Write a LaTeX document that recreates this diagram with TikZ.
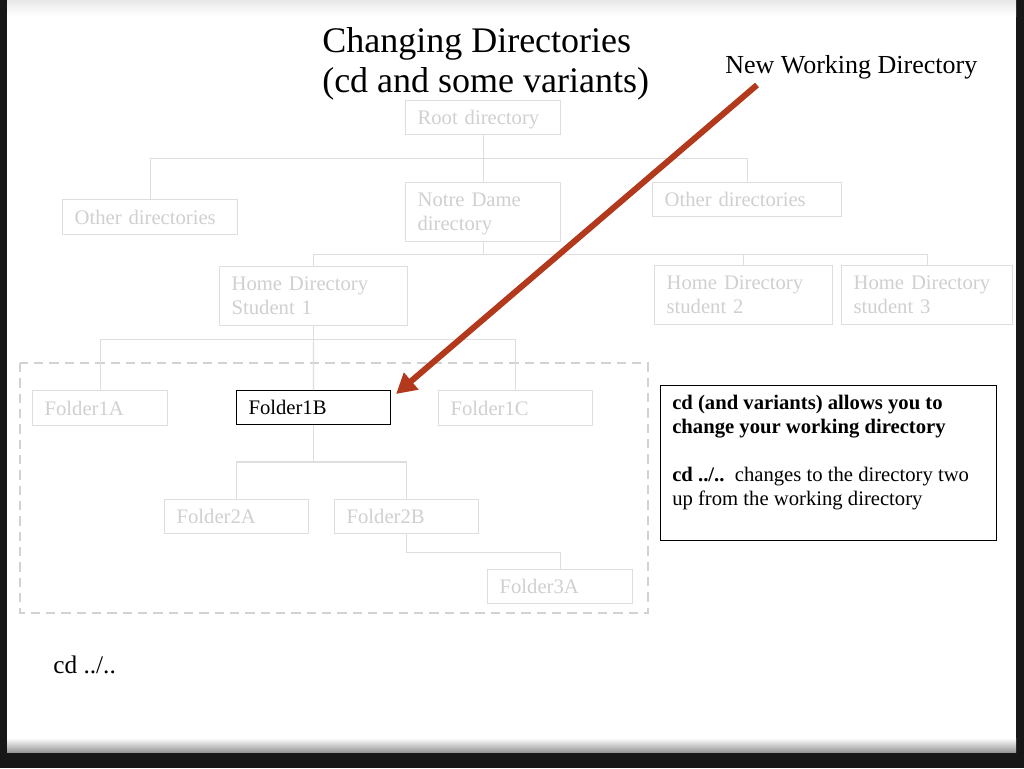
\documentclass[tikz,border=0pt]{standalone}
\usepackage{fontspec}
\setmainfont{Liberation Serif}
\usetikzlibrary{arrows.meta,calc}
\definecolor{boxgray}{HTML}{DEDEDE}
\definecolor{txtgray}{HTML}{D0D0D0}
\definecolor{dashgray}{HTML}{D2D2D2}
\definecolor{arrowred}{HTML}{B2391C}
\definecolor{framedark}{HTML}{171717}
\begin{document}
\begin{tikzpicture}[x=0.75pt,y=-0.75pt,
  dirbox/.style={draw=boxgray, line width=0.9pt, text=txtgray,
    font=\fontsize{15.5}{18}\selectfont, inner xsep=9pt, inner ysep=0pt,
    text depth=0pt, anchor=north west, align=left},
  twobox/.style={dirbox, text height=11.5pt, text depth=20pt},
  curbox/.style={dirbox, draw=black, text=black, line width=0.8pt},
  link/.style={draw=boxgray, line width=0.9pt},
  pointer/.style={draw=arrowred, line width=4.5pt, -{Triangle[length=15pt,width=16pt]}},
]
\useasboundingbox (0,0) rectangle (1024,768);
% slide background
\fill[framedark] (0,0) rectangle (1024,768);
\fill[white] (7,0) rectangle (1016,752);
\shade[top color=black!9, bottom color=white] (7,0) rectangle (1016,16);
\shade[top color=white, bottom color=black!40] (7,738) rectangle (1016,752);

% dashed region
\draw[dashgray, line width=1.5pt, dash pattern=on 7pt off 4.5pt] (20,363) rectangle (648,613);

% directory boxes
\node[dirbox, text width=98.25pt, minimum height=25.5pt] (root) at (405,100) {Root directory};
\node[dirbox, text width=113.25pt, minimum height=26.25pt] (otherL) at (62,199) {Other directories};
\node[twobox, text width=98.25pt, minimum height=44.25pt] (notre) at (405,182) {Notre Dame\\directory};
\node[dirbox, text width=123.75pt, minimum height=25.5pt] (otherR) at (652,182) {Other directories};
\node[twobox, text width=123pt, minimum height=44.25pt] (home1) at (219,266) {Home Directory\\Student 1};
\node[twobox, text width=115.5pt, minimum height=44.25pt] (home2) at (654,265) {Home Directory\\student 2};
\node[twobox, text width=110.25pt, minimum height=44.25pt] (home3) at (841,265) {Home Directory\\student 3};
\node[dirbox, text width=83.25pt, minimum height=26.25pt] (f1a) at (32,390) {Folder1A};
\node[curbox, text width=97.5pt, minimum height=25.5pt] (f1b) at (236,390) {Folder1B};
\node[dirbox, text width=97.5pt, minimum height=26.25pt] (f1c) at (438,390) {Folder1C};
\node[dirbox, text width=90pt, minimum height=25.5pt] (f2a) at (164,499) {Folder2A};
\node[dirbox, text width=90pt, minimum height=25.5pt] (f2b) at (334,499) {Folder2B};
\node[dirbox, text width=90.75pt, minimum height=25.5pt] (f3a) at (487,569) {Folder3A};

% connectors
\draw[link] (root.south) -- ++(0,23) coordinate (j1);
\draw[link] (j1) -| (otherL.north);
\draw[link] (j1) -| (otherR.north);
\draw[link] (j1) -- (notre.north);
\draw[link] (notre.south) -- ++(0,12) coordinate (j2);
\draw[link] (j2) -| (home1.north);
\draw[link] (j2) -| (home2.north);
\draw[link] (j2) -| (home3.north);
\draw[link] (home1.south) -- ++(0,13) coordinate (j3);
\draw[link] (j3) -| (f1a.north);
\draw[link] (j3) -| (f1c.north);
\draw[link] (j3) -- (f1b.north);
\draw[link] (f1b.south) -- ++(0,37) coordinate (j4);
\draw[link] (j4) -| (f2a.north);
\draw[link] (j4) -| (f2b.north);
\draw[link] (f2b.south) -- ++(0,18) -| (f3a.north);

% info box
\node[draw=black, line width=0.75pt, anchor=north west, minimum width=252pt, minimum height=116.25pt, inner sep=0pt] (info) at (660,385) {};
\node[anchor=north west, inner sep=0pt, align=left, font=\fontsize{15.5}{18}\selectfont] (infotext) at (672,395)
  {\textbf{cd (and variants) allows you to}\\\textbf{change your working directory}\\[18pt]\textbf{cd ../..}\ \ changes to the directory two\\up from the working directory};

% titles and labels
\node[anchor=base west, inner sep=0pt, font=\fontsize{27}{30}\selectfont] (title1) at (322,52) {Changing Directories};
\node[anchor=base west, inner sep=0pt, font=\fontsize{27}{30}\selectfont] (title2) at (322,92) {(cd and some variants)};
\node[anchor=base west, inner sep=0pt, font=\fontsize{19.5}{22}\selectfont] (newwd) at (725,73) {New Working Directory};
\node[anchor=base west, inner sep=0pt, font=\fontsize{19}{22}\selectfont] (cmd) at (53,673) {cd ../..};

% pointer arrow
\coordinate (astart) at (757,85);
\coordinate (atip) at ($(f1b.north east)+(5,4)$);
\draw[pointer] (astart) -- (atip);
\end{tikzpicture}
\end{document}
